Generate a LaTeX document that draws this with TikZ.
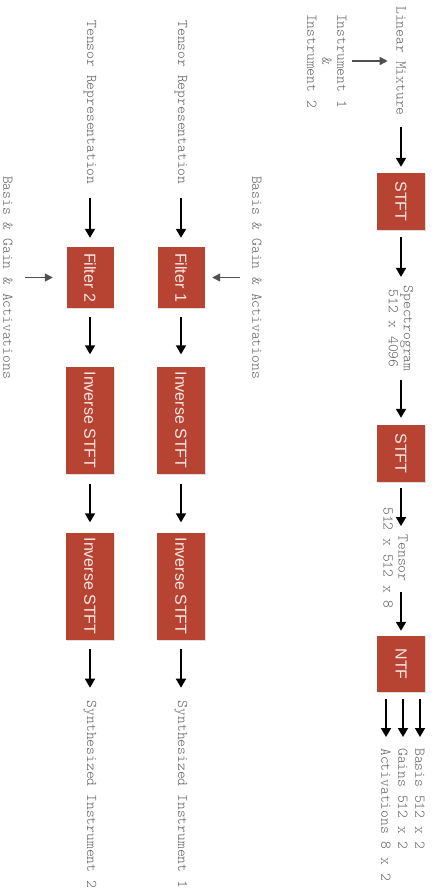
\documentclass[tikz,border=0pt]{standalone}
\usepackage{fontspec}
\setmainfont{Liberation Sans}
\newfontfamily\monof{lmmonolt10-regular.otf}
\usetikzlibrary{arrows.meta,shadows}
\definecolor{boxred}{RGB}{183,68,50}
\definecolor{boxtxt}{RGB}{250,232,228}
\definecolor{lbl}{RGB}{95,95,95}
\definecolor{side}{RGB}{80,80,80}
\begin{document}
\begin{tikzpicture}[x=1pt,y=-1pt,
  lab/.style={rotate=-90, inner sep=0pt, font=\monof\fontsize{14.86}{15}\selectfont, text=lbl, align=center},
  blk/.style={rotate=-90, fill=boxred, text=boxtxt, inner sep=0pt, font=\fontsize{16}{16}\selectfont, minimum height=48pt,
    drop shadow={opacity=0.25, shadow xshift=0.6pt, shadow yshift=-1.2pt}},
  arr/.style={line width=1.8pt, -{Triangle[length=9pt,width=10pt]}},
  sarr/.style={line width=1.5pt, draw=side, -{Triangle[length=8pt,width=8pt]}}
]
\useasboundingbox (0,0) rectangle (434,889);

% column A
\node[lab] (lin) at (401,61) {Linear Mixture};
\node[lab] (instr) at (327,61) {Instrument 1\\\&\\Instrument 2};
\node[blk, minimum width=57pt] (stft1) at (401,201.5) {STFT};
\node[lab] (spec) at (401,328.5) {Spectrogram\\512 x 4096};
\node[blk, minimum width=57pt] (stft2) at (401,453.5) {STFT};
\node[lab] (tens) at (395.5,558) {Tensor\\512 x 512 x 8};
\node[blk, minimum width=56pt] (ntf) at (401,664) {NTF};
\node[lab, anchor=west] (basis) at (420,748) {Basis 512 x 2};
\node[lab, anchor=west] (gains) at (403,748) {Gains 512 x 2};
\node[lab, anchor=west] (acts) at (386,748) {Activations 8 x 2};

% column B
\node[lab] (trep1) at (181,102.5) {Tensor Representation};
\node[blk, minimum width=61pt, minimum height=47pt] (filt1) at (181,277.5) {Filter 1};
\node[lab] (bga1) at (257,277.5) {Basis \& Gain \& Activations};
\node[blk, minimum width=107pt] (inv1a) at (181,420) {Inverse STFT};
\node[blk, minimum width=107pt] (inv1b) at (181,586) {Inverse STFT};
\node[lab] (syn1) at (181,794.5) {Synthesized Instrument 1};

% column C
\node[lab] (trep2) at (90,102.5) {Tensor Representation};
\node[blk, minimum width=61pt, minimum height=47pt] (filt2) at (90,277.5) {Filter 2};
\node[lab] (bga2) at (8,277.5) {Basis \& Gain \& Activations};
\node[blk, minimum width=107pt] (inv2a) at (90,420) {Inverse STFT};
\node[blk, minimum width=107pt] (inv2b) at (90,586) {Inverse STFT};
\node[lab] (syn2) at (90,794.5) {Synthesized Instrument 2};

% arrows column A
\draw[sarr, shorten <=5pt, shorten >=8.5pt] (instr) -- (lin);
\draw[arr, shorten <=11pt, shorten >=6pt] (lin) -- (stft1);
\draw[arr, shorten <=7pt, shorten >=8.5pt] (stft1) -- (spec);
\draw[arr, shorten <=8.5pt, shorten >=7pt] (spec) -- (stft2);
\draw[arr, shorten <=6pt, shorten >=-19pt] (stft2.east) -- (stft2.east |- tens.west);
\draw[arr, shorten <=-17pt, shorten >=5pt] (ntf.west |- tens.east) -- (ntf.west);
\draw[arr, shorten <=7pt, shorten >=11pt] (ntf.east -| basis.west) -- (basis.west);
\draw[arr, shorten <=7pt, shorten >=11pt] (ntf.east -| gains.west) -- (gains.west);
\draw[arr, shorten <=7pt, shorten >=11pt] (ntf.east -| acts.west) -- (acts.west);

% arrows column B
\draw[arr, shorten <=13pt, shorten >=9pt] (trep1) -- (filt1);
\draw[sarr, shorten <=12.5pt, shorten >=7.5pt] (bga1) -- (filt1);
\draw[arr, shorten <=9pt, shorten >=12pt] (filt1) -- (inv1a);
\draw[arr, shorten <=10pt, shorten >=10pt] (inv1a) -- (inv1b);
\draw[arr, shorten <=9.5pt, shorten >=13pt] (inv1b) -- (syn1);

% arrows column C
\draw[arr, shorten <=13pt, shorten >=9pt] (trep2) -- (filt2);
\draw[sarr, shorten <=12.5pt, shorten >=13.5pt] (bga2) -- (filt2);
\draw[arr, shorten <=9pt, shorten >=12pt] (filt2) -- (inv2a);
\draw[arr, shorten <=10pt, shorten >=10pt] (inv2a) -- (inv2b);
\draw[arr, shorten <=9.5pt, shorten >=13pt] (inv2b) -- (syn2);
\end{tikzpicture}
\end{document}
